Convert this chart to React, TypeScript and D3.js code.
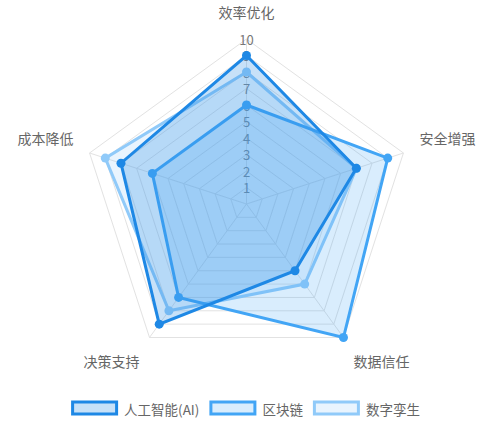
import React, { useMemo } from "react";
import * as d3 from "d3";

const axes = ["效率优化", "安全增强", "数据信任", "决策支持", "成本降低"];
const seriesNames = ["人工智能(AI)", "区块链", "数字孪生"];
const aiValues = [9, 7, 5, 9, 8];
const blockchainValues = [6, 9, 10, 7, 6];
const twinValues = [8, 7, 6, 8, 9];
const tickValues = [1, 2, 3, 4, 5, 6, 7, 8, 9, 10];

const W = 491;
const H = 430;
const CX = 246.5;
const CY = 204;
const R = 165;
const FONT = "'Noto Sans CJK SC', 'Noto Sans', sans-serif";

const borders = ["#1e88e5", "#42a5f5", "#90caf9"];
const fills = [
  "rgba(30,136,229,0.25)",
  "rgba(66,165,245,0.2)",
  "rgba(144,202,249,0.2)",
];

function measure(text: string, size: number) {
  const c = document.createElement("canvas").getContext("2d");
  if (!c) return text.length * size;
  c.font = `${size}px 'Noto Sans CJK SC', sans-serif`;
  return c.measureText(text).width;
}

export default function App() {
  const rScale = d3.scaleLinear().domain([0, 10]).range([0, R]);
  const angle = (i: number) => (i * 2 * Math.PI) / axes.length;
  const pt = (i: number, v: number): [number, number] => {
    const a = angle(i);
    return [CX + rScale(v) * Math.sin(a), CY - rScale(v) * Math.cos(a)];
  };
  const all = [aiValues, blockchainValues, twinValues];
  const lineGen = d3.line<[number, number]>().curve(d3.curveLinearClosed);

  const legend = useMemo(() => {
    const fs = 13.5;
    const items = seriesNames.map((n) => ({ n, w: 47 + 6 + measure(n, fs) }));
    const gap = 10;
    const total = items.reduce((s, it) => s + it.w, 0) + gap * (items.length - 1);
    let x = W / 2 - total / 2;
    return items.map((it, i) => {
      const r = { ...it, x, i };
      x += it.w + gap;
      return r;
    });
  }, []);

  const labelOffset = 17;

  return (
    <svg
      width={W}
      height={H}
      style={{ position: "absolute", left: 0, top: 0, background: "#fff" }}
      fontFamily={FONT}
    >
      {/* grid */}
      {tickValues.map((t) => (
        <path
          key={"g" + t}
          d={lineGen(axes.map((_, i) => pt(i, t))) || ""}
          fill="none"
          stroke="#e2e2e2"
          strokeWidth={1}
        />
      ))}
      {axes.map((_, i) => {
        const [x, y] = pt(i, 10);
        return <line key={"a" + i} x1={CX} y1={CY} x2={x} y2={y} stroke="#e2e2e2" strokeWidth={1} />;
      })}
      {/* ticks */}
      {tickValues.map((t) => (
        <text
          key={"t" + t}
          x={CX}
          y={CY - rScale(t)}
          textAnchor="middle"
          dominantBaseline="central"
          fontSize={13}
          fill="#777"
        >
          {t}
        </text>
      ))}
      {/* point labels */}
      {axes.map((name, i) => {
        const a = angle(i);
        const s = Math.sin(a);
        const c = Math.cos(a);
        const x = CX + (R + labelOffset) * s;
        const y = CY - (R + labelOffset) * c;
        const anchor = Math.abs(s) < 0.01 ? "middle" : s > 0 ? "start" : "end";
        const baseline = c > 0.01 ? "text-after-edge" : "text-before-edge";
        return (
          <text
            key={"l" + i}
            x={x}
            y={y}
            textAnchor={anchor}
            dominantBaseline={baseline}
            fontSize={14}
            fill="#666"
          >
            {name}
          </text>
        );
      })}
      {/* datasets, first on top */}
      {[2, 1, 0].map((si) => {
        const pts = all[si].map((v, i) => pt(i, v));
        return (
          <g key={"s" + si}>
            <path
              d={lineGen(pts) || ""}
              fill={fills[si]}
              stroke={borders[si]}
              strokeWidth={3}
              strokeLinejoin="miter"
            />
            {pts.map(([x, y], i) => (
              <circle key={i} cx={x} cy={y} r={4.5} fill={borders[si]} />
            ))}
          </g>
        );
      })}
      {/* legend */}
      {legend.map((it) => (
        <g key={"lg" + it.i}>
          <rect
            x={it.x + 1.5}
            y={402}
            width={44}
            height={12}
            fill={fills[it.i]}
            stroke={borders[it.i]}
            strokeWidth={3}
          />
          <text
            x={it.x + 47 + 6}
            y={409}
            dominantBaseline="central"
            fontSize={13.5}
            fill="#666"
          >
            {it.n}
          </text>
        </g>
      ))}
    </svg>
  );
}
